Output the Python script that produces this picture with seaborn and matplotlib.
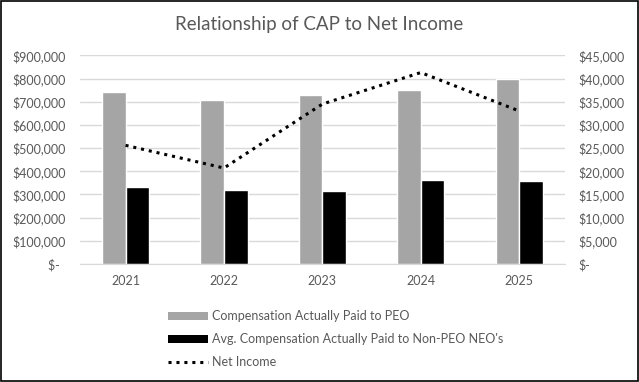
import matplotlib
matplotlib.use("Agg")
import matplotlib.pyplot as plt
import seaborn as sns
import pandas as pd
from matplotlib.lines import Line2D
from matplotlib.patches import Patch
from matplotlib.ticker import FuncFormatter

# values
years = ["2021", "2022", "2023", "2024", "2025"]
cap_peo = [743000, 707000, 729000, 750000, 798000]
cap_non_peo = [332000, 319000, 315000, 362000, 358000]
net_income = [25600, 20700, 34500, 41300, 33000]

label_peo = "Compensation Actually Paid to PEO"
label_non = "Avg. Compensation Actually Paid to Non-PEO NEO's"
label_ni = "Net Income"

sns.set_style("white")
plt.rcParams['font.family'] = ['Lato', 'DejaVu Sans']
text_col = "#595959"
grid_col = "#d9d9d9"

bars = pd.DataFrame({
    "year": years * 2,
    "value": cap_peo + cap_non_peo,
    "series": [label_peo] * len(years) + [label_non] * len(years),
})
line = pd.DataFrame({"year": years, "value": net_income})

fig = plt.figure(figsize=(6.39, 3.82), dpi=100)
ax = fig.add_axes([0.125, 0.309, 0.759, 0.546])

sns.barplot(data=bars, x="year", y="value", hue="series", ax=ax,
            palette=["#a5a5a5", "#000000"], width=0.48, saturation=1,
            legend=False)
ax.set_ylim(0, 900000)
ax.set_yticks(range(0, 900001, 100000))


def dollar(v, pos):
    return "$-  " if v == 0 else f"${v:,.0f}"


ax.yaxis.set_major_formatter(FuncFormatter(dollar))
ax.grid(axis="y", color=grid_col, linewidth=1)
ax.set_axisbelow(True)
ax.set_xlabel("")
ax.set_ylabel("")
for s in ["top", "right", "left"]:
    ax.spines[s].set_visible(False)
ax.spines["bottom"].set_color(grid_col)
ax.tick_params(length=0, colors=text_col, labelsize=9)
ax.tick_params(axis="y", pad=10)
ax.tick_params(axis="x", pad=8)

ax2 = ax.twinx()
sns.lineplot(data=line, x="year", y="value", ax=ax2, color="black",
             linestyle=(0, (1, 1.6)), linewidth=2.2)
ax2.set_ylim(0, 45000)
ax2.set_yticks(range(0, 45001, 5000))
ax2.yaxis.set_major_formatter(FuncFormatter(lambda v, p: "$-" if v == 0 else f"${v:,.0f}"))
ax2.set_ylabel("")
ax2.set_xlabel("")
for s in ax2.spines.values():
    s.set_visible(False)
ax2.tick_params(length=0, colors=text_col, labelsize=9, pad=10)

fig.text(0.5, 0.935, "Relationship of CAP to Net Income", ha="center",
         va="center", fontsize=13.5, color=text_col)

handles = [
    Patch(facecolor="#a5a5a5", edgecolor="none"),
    Patch(facecolor="#000000", edgecolor="none"),
    Line2D([0], [0], color="black", linestyle=(0, (1, 1.6)), linewidth=2.2),
]
fig.legend(handles, [label_peo, label_non, label_ni], loc="upper left",
           bbox_to_anchor=(0.245, 0.218), ncol=1, frameon=False,
           fontsize=9, labelcolor=text_col, handlelength=3.2,
           handleheight=0.6, labelspacing=0.9, handletextpad=0.35)

fig.patches.append(plt.Rectangle((0.002, 0.003), 0.996, 0.994,
                                 transform=fig.transFigure, fill=False,
                                 edgecolor="black", linewidth=1.2))

fig.savefig("out.png", dpi=100, facecolor="white")
